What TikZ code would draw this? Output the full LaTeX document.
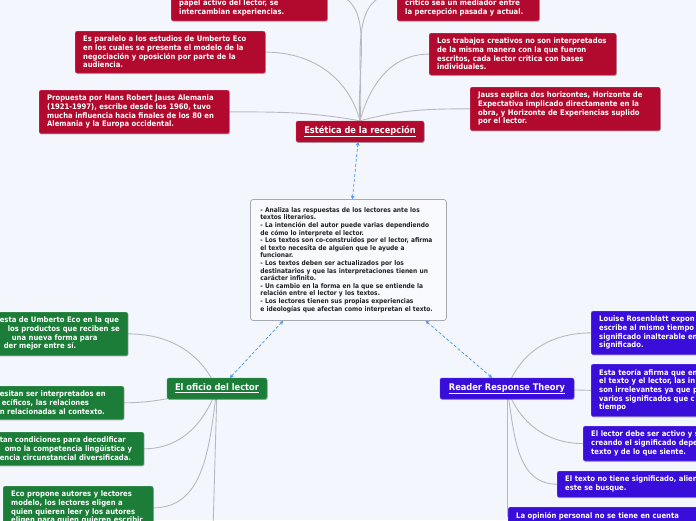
\documentclass[tikz,border=0pt]{standalone}
\usepackage{fontspec}
\newfontfamily\cfont{DejaVuSansCondensed-Bold.ttf}
\usetikzlibrary{arrows.meta,shadows}
\definecolor{bgc}{HTML}{F3F6FD}
\definecolor{redc}{HTML}{B20A2E}
\definecolor{greenc}{HTML}{1B7D37}
\definecolor{bluec}{HTML}{3A0EDA}
\definecolor{connc}{HTML}{B8B9BD}
\definecolor{dashc}{HTML}{4A93EA}
\definecolor{boxline}{HTML}{A5A8AF}
\definecolor{notetext}{HTML}{222222}
\pgfdeclarelayer{bg}
\pgfsetlayers{bg,main}
\tikzset{
  leaf/.style={rounded corners=2pt, inner xsep=8pt, inner ysep=5pt, align=left,
    text=white, font=\cfont\fontsize{7.6}{8.65}\selectfont, line width=0.4pt,
    drop shadow={shadow xshift=0.6pt, shadow yshift=-0.9pt, opacity=0.3, fill=black}},
  redleaf/.style={leaf, fill=redc, draw=redc!75!white},
  greenleaf/.style={leaf, fill=greenc, draw=greenc!75!white},
  blueleaf/.style={leaf, fill=bluec, draw=bluec!75!white},
  topic/.style={rounded corners=2pt, text=white, font=\cfont\fontsize{9.2}{10}\selectfont,
    inner sep=0pt, minimum height=21pt, line width=0.4pt,
    drop shadow={shadow xshift=0.6pt, shadow yshift=-0.9pt, opacity=0.3, fill=black}},
  note/.style={rounded corners=3pt, draw=boxline, line width=0.8pt, fill=white!40!bgc,
    inner xsep=10pt, inner ysep=8pt, align=left, text=notetext,
    font=\cfont\fontsize{6.55}{7.6}\selectfont},
  conn/.style={draw=connc, line width=0.9pt},
  link/.style={draw=dashc, dash pattern=on 3pt off 2pt, line width=0.7pt,
    {Stealth[length=3.5pt,width=4pt]}-{Stealth[length=3.5pt,width=4pt]}}
}
\begin{document}
\begin{tikzpicture}[x=1pt,y=1pt]
\useasboundingbox (0,0) rectangle (696,-520);
\begin{pgfonlayer}{bg}
  \fill[bgc] (0,0) rectangle (696,-520);
\end{pgfonlayer}

% main topics
\node[topic, fill=redc, draw=redc!75!white, minimum width=128pt] (est) at (360,-131.5) {\underline{Estética de la recepción}};
\node[topic, fill=greenc, draw=greenc!75!white, minimum width=100pt] (ofi) at (217,-388.5) {\underline{El oficio del lector}};
\node[topic, fill=bluec, draw=bluec!75!white, minimum width=134pt] (rrt) at (507,-388.5) {\underline{Reader Response Theory}};

% central note
\node[note, anchor=north west, text width=176pt] (cb) at (250,-199) {%
- Analiza las respuestas de los lectores ante los\\
textos literarios.\\
- La intención del autor puede varias dependiendo\\
de cómo lo interprete el lector.\\
- Los textos son co-construidos por el lector, afirma\\
el texto necesita de alguien que le ayude a\\
funcionar.\\
- Los textos deben ser actualizados por los\\
destinatarios y que las interpretaciones tienen un\\
carácter infinito.\\
- Un cambio en la forma en la que se entiende la\\
relación entre el lector y los textos.\\
- Los lectores tienen sus propias experiencias\\
e ideologías que afectan como interpretan el texto.};

% red leaves
\node[redleaf, anchor=south west, text width=140pt] (r1) at (171,-21) {papel activo del lector, se\\intercambian experiencias.};
\node[redleaf, anchor=south west, text width=126pt] (r2) at (397,-21) {crítico sea un mediador entre\\la percepción pasada y actual.};
\node[redleaf, anchor=north west, text width=174pt] (r3) at (75,-31) {Es paralelo a los estudios de Umberto Eco\\en los cuales se presenta el modelo de la\\negociación y oposición por parte de la\\audiencia.};
\node[redleaf, anchor=north west, text width=174pt] (r4) at (39,-90) {Propuesta por Hans Robert Jauss Alemania\\(1921-1997), escribe desde los 1960, tuvo\\mucha influencia hacia finales de los 80 en\\Alemania y la Europa occidental.};
\node[redleaf, anchor=north west, text width=171pt] (r5) at (429,-33) {Los trabajos creativos no son interpretados\\de la misma manera con la que fueron\\escritos, cada lector critica con bases\\individuales.};
\node[redleaf, anchor=north west, text width=174pt] (r6) at (470,-87) {Jauss explica dos horizontes, Horizonte de\\Expectativa implicado directamente en la\\obra, y Horizonte de Experiencias suplido\\por el lector.};

% green leaves
\node[greenleaf, anchor=north east, text width=160pt] (g1) at (128,-312) {\hspace*{40pt}esta de Umberto Eco en la que\\\hspace*{48pt}los productos que reciben se\\\hspace*{52pt}una nueva forma para\\\hspace*{44pt}der mejor entre sí.};
\node[greenleaf, anchor=north east, text width=160pt] (g2) at (124,-386) {\hspace*{44pt}esitan ser interpretados en\\\hspace*{46pt}ecíficos, las relaciones\\\hspace*{44pt}n relacionadas al contexto.};
\node[greenleaf, anchor=north east, text width=170pt] (g3) at (144,-432) {\hspace*{34pt}tan condiciones para decodificar\\\hspace*{39pt}omo la competencia lingüística y\\\hspace*{34pt}encia circunstancial diversificada.};
\node[greenleaf, anchor=north west, text width=134pt] (g4) at (3,-486) {Eco propone autores y lectores\\modelo, los lectores eligen a\\quien quieren leer y los autores\\eligen para quien quieren escribir};
\coordinate (ofidown) at (213,-530);

% blue leaves
\node[blueleaf, anchor=north west, text width=150pt] (b1) at (591,-311) {Louise Rosenblatt expon\\escribe al mismo tiempo\\significado inalterable en\\significado.};
\node[blueleaf, anchor=north west, text width=150pt] (b2) at (591,-364) {Esta teoría afirma que en\\el texto y el lector, las in\\son irrelevantes ya que p\\varios significados que c\\tiempo};
\node[blueleaf, anchor=north west, text width=150pt] (b3) at (583,-426) {El lector debe ser activo y s\\creando el significado depe\\texto y de lo que siente.};
\node[blueleaf, anchor=north west, text width=170pt] (b4) at (557,-471) {El texto no tiene significado, alien\\este se busque.};
\node[blueleaf, anchor=north west, text width=190pt] (b5) at (508,-507) {La opinión personal no se tiene en cuenta};

% connectors
\begin{pgfonlayer}{bg}
  \draw[conn] ([yshift=14pt]r1.east) to[out=0,in=95] (est.north);
  \draw[conn] ([yshift=14pt]r2.west) to[out=180,in=85] (est.north);
  \draw[conn] (r3.east) to[out=0,in=105] (est.north);
  \draw[conn] (r4.east) to[out=0,in=170] (est.north);
  \draw[conn] (r5.west) to[out=180,in=75] (est.north);
  \draw[conn] (r6.west) to[out=180,in=15] (est.north);

  \draw[conn] (g1.east) to[out=0,in=115] (ofi.center);
  \draw[conn] (g2.east) to[out=0,in=190] (ofi.center);
  \draw[conn] (g3.east) to[out=0,in=250] (ofi.center);
  \draw[conn] (g4.east) to[out=0,in=262] (ofi.center);
  \draw[conn] (ofidown) -- (ofi.center);

  \draw[conn] (b1.west) to[out=180,in=70] (rrt.center);
  \draw[conn] (b2.west) -- (rrt.center);
  \draw[conn] (b3.west) to[out=180,in=290] (rrt.center);
  \draw[conn] (b4.west) to[out=180,in=280] (rrt.center);
  \draw[conn] (b5.west) -| (rrt.center);
\end{pgfonlayer}

% dashed relations
\draw[link] ([xshift=4pt]cb.north) -- ([xshift=-2pt]est.south);
\draw[link] ([xshift=33pt]cb.south west) -- ([xshift=13pt]ofi.north);
\draw[link] ([xshift=-21pt]cb.south east) -- ([xshift=-15pt]rrt.north);
\end{tikzpicture}
\end{document}
